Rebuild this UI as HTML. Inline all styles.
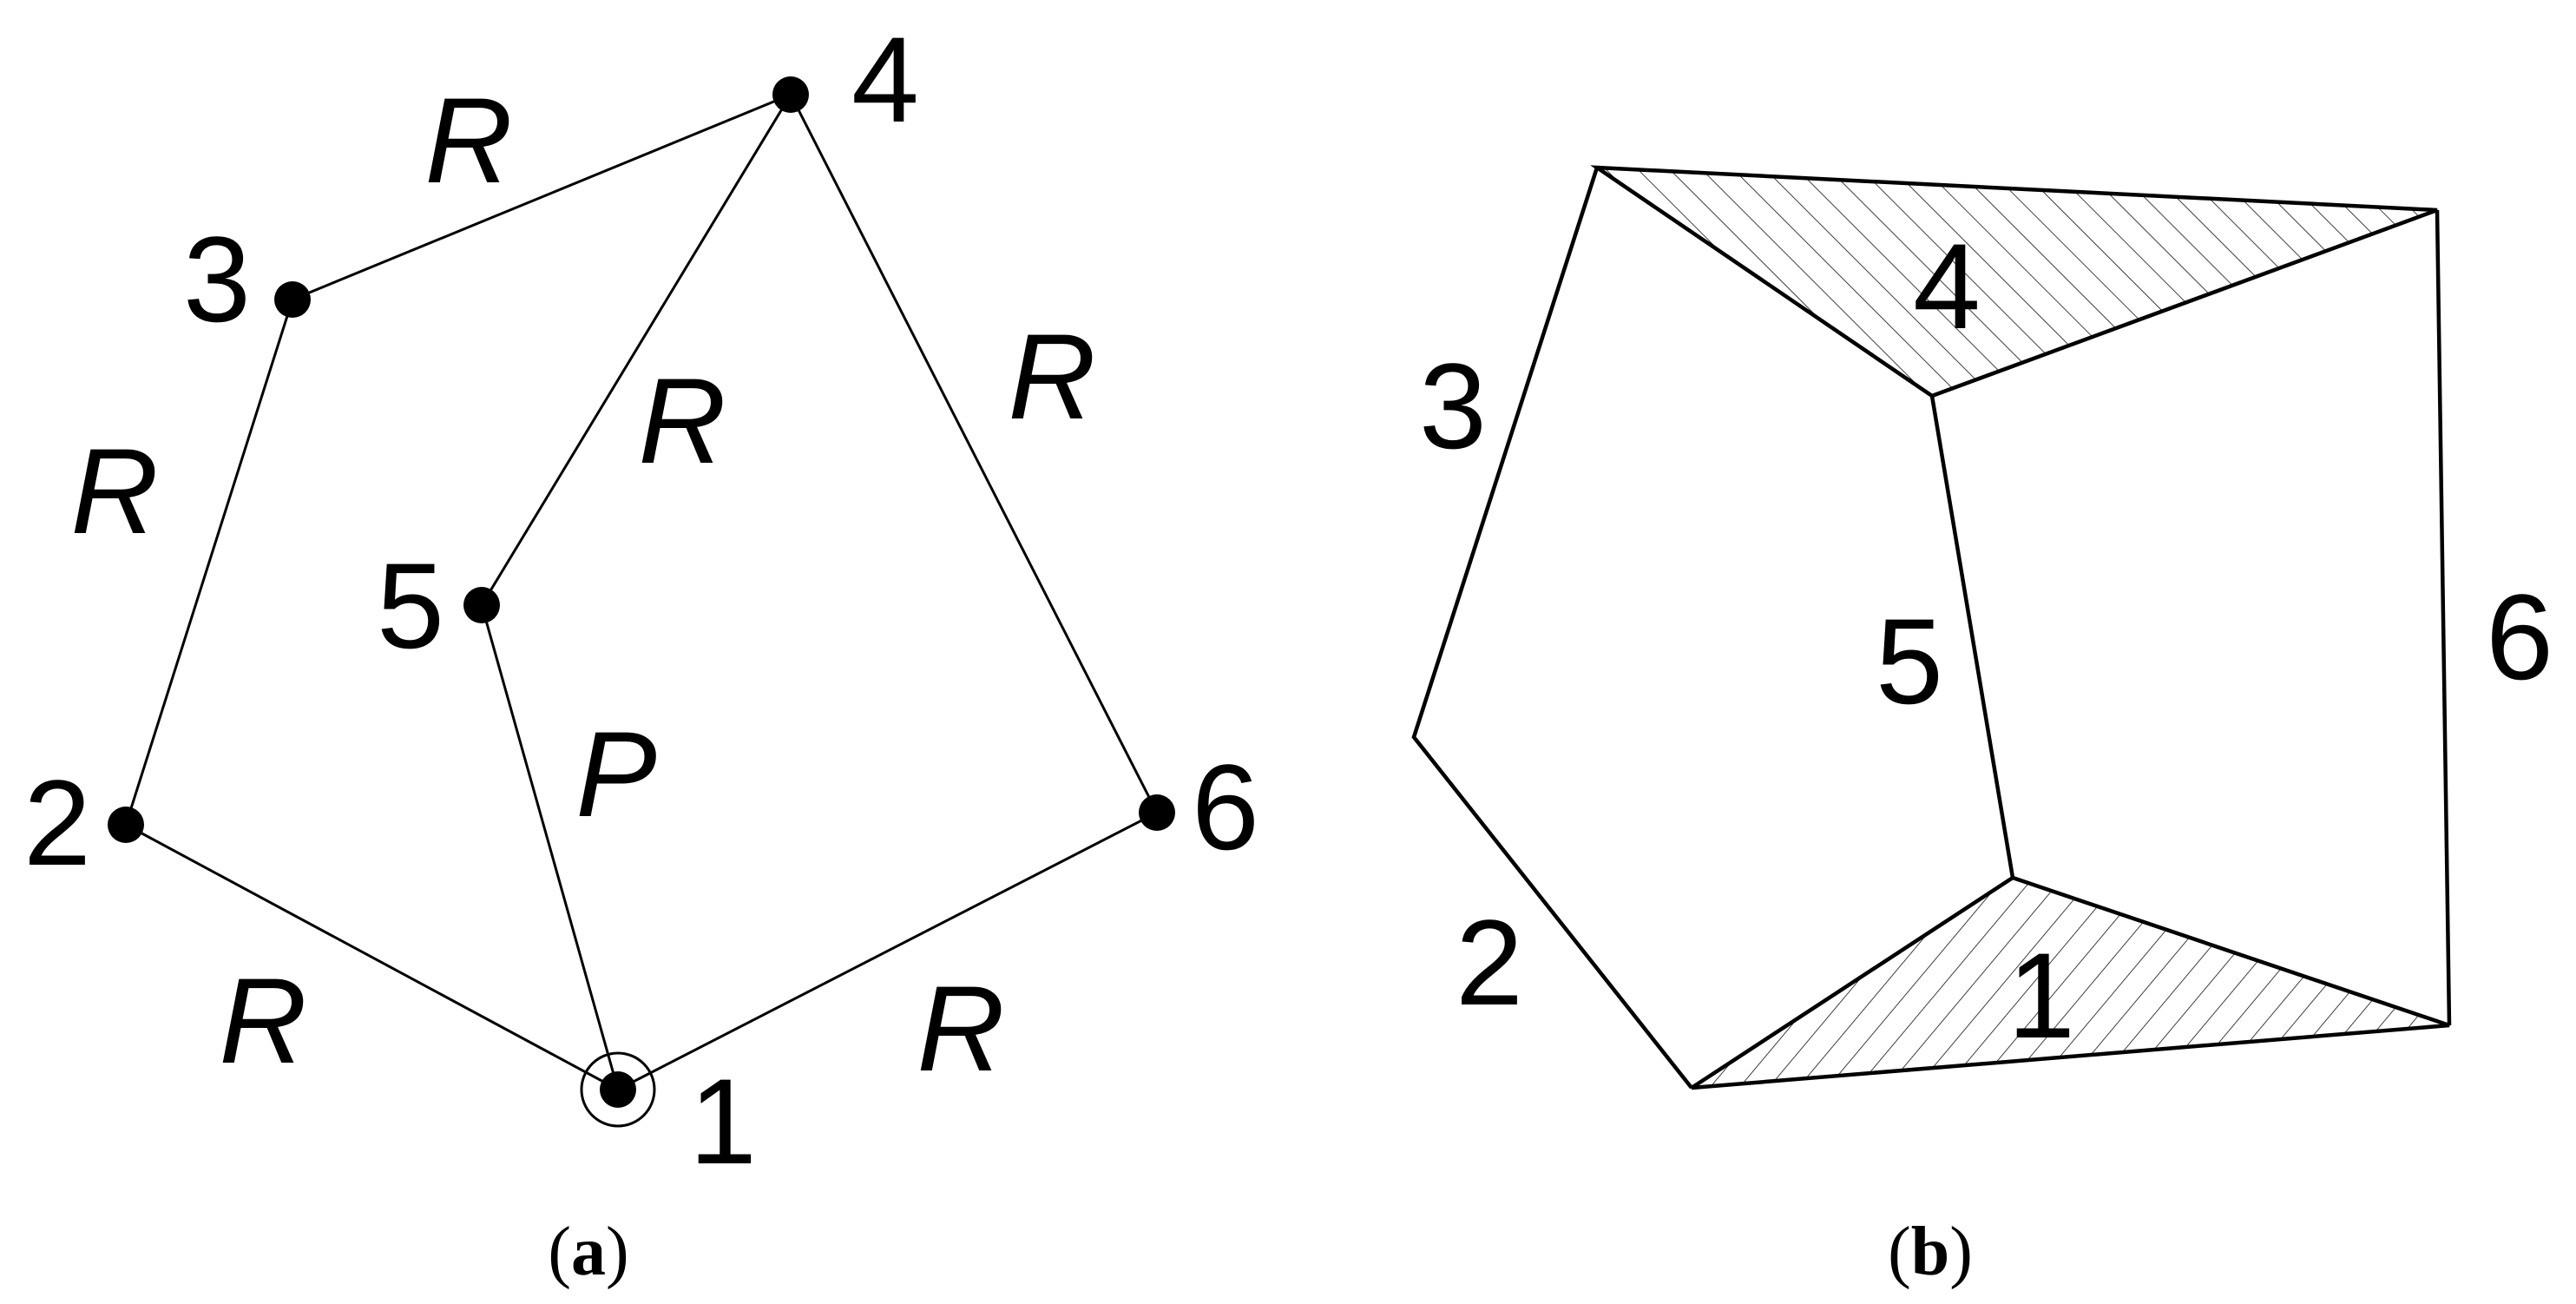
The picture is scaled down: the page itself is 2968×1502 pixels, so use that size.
<!DOCTYPE html>
<html><head><meta charset="utf-8"><style>
html,body{margin:0;padding:0;background:#fff;}
svg{display:block;}
text{font-family:"Liberation Sans",sans-serif;fill:#000;}
.n{font-size:140px;}
.r{font-size:140px;font-style:italic;}
.cap{font-family:"Liberation Serif",serif;font-size:80px;}
</style></head><body>
<svg width="2968" height="1502" viewBox="0 0 2968 1502" xmlns="http://www.w3.org/2000/svg">
<defs>
<pattern id="h1" width="26" height="26" patternUnits="userSpaceOnUse" patternTransform="rotate(-45)">
<line x1="0" y1="0" x2="0" y2="26" stroke="#000" stroke-width="1.5"/>
</pattern>
<pattern id="h2" width="26" height="26" patternUnits="userSpaceOnUse" patternTransform="rotate(40)">
<line x1="0" y1="0" x2="0" y2="26" stroke="#000" stroke-width="1.5"/>
</pattern>
</defs>
<!-- panel a -->
<g stroke="#000" stroke-width="3" fill="none">
<polyline points="712,1255 145,950 337,345 911,109 1333,936 712,1255"/>
<polyline points="911,109 555,697 712,1255"/>
<circle cx="712" cy="1255" r="42"/>
</g>
<g fill="#000">
<circle cx="911" cy="109" r="21"/>
<circle cx="337" cy="345" r="21"/>
<circle cx="145" cy="950" r="21"/>
<circle cx="555" cy="697" r="21"/>
<circle cx="1333" cy="936" r="21"/>
<circle cx="712" cy="1255" r="21"/>
</g>
<g text-anchor="middle">
<text class="n" x="1020" y="140">4</text>
<text class="n" x="250" y="370">3</text>
<text class="n" x="66" y="996">2</text>
<text class="n" x="473" y="746">5</text>
<text class="n" x="1412" y="978">6</text>
<text class="n" x="833" y="1340">1</text>
<text class="r" x="540" y="210">R</text>
<text class="r" x="132" y="614">R</text>
<text class="r" x="786" y="533">R</text>
<text class="r" x="1212" y="482">R</text>
<text class="r" x="710" y="940">P</text>
<text class="r" x="303" y="1224">R</text>
<text class="r" x="1107" y="1233">R</text>
<text class="cap" x="678" y="1468"><tspan>(</tspan><tspan font-weight="bold">a</tspan><tspan>)</tspan></text>
<text class="cap" x="2224" y="1468"><tspan>(</tspan><tspan font-weight="bold">b</tspan><tspan>)</tspan></text>
</g>
<!-- panel b -->
<polygon points="1840,193 2808,242 2226,456" fill="url(#h1)"/>
<polygon points="1949,1253 2319,1011 2822,1181" fill="url(#h2)"/>
<g stroke="#000" stroke-width="4.5" fill="none" stroke-linejoin="miter">
<polygon points="1840,193 2808,242 2226,456"/>
<polygon points="1949,1253 2319,1011 2822,1181"/>
<polyline points="1840,193 1629,849 1949,1253"/>
<line x1="2226" y1="456" x2="2319" y2="1011"/>
<line x1="2808" y1="242" x2="2822" y2="1181"/>
</g>
<g text-anchor="middle">
<text class="n" x="2243" y="378">4</text>
<text class="n" x="1674" y="516">3</text>
<text class="n" x="2200" y="810">5</text>
<text class="n" x="2903" y="782">6</text>
<text class="n" x="1716" y="1157">2</text>
<text class="n" x="2352" y="1195">1</text>
</g>
</svg>
</body></html>
